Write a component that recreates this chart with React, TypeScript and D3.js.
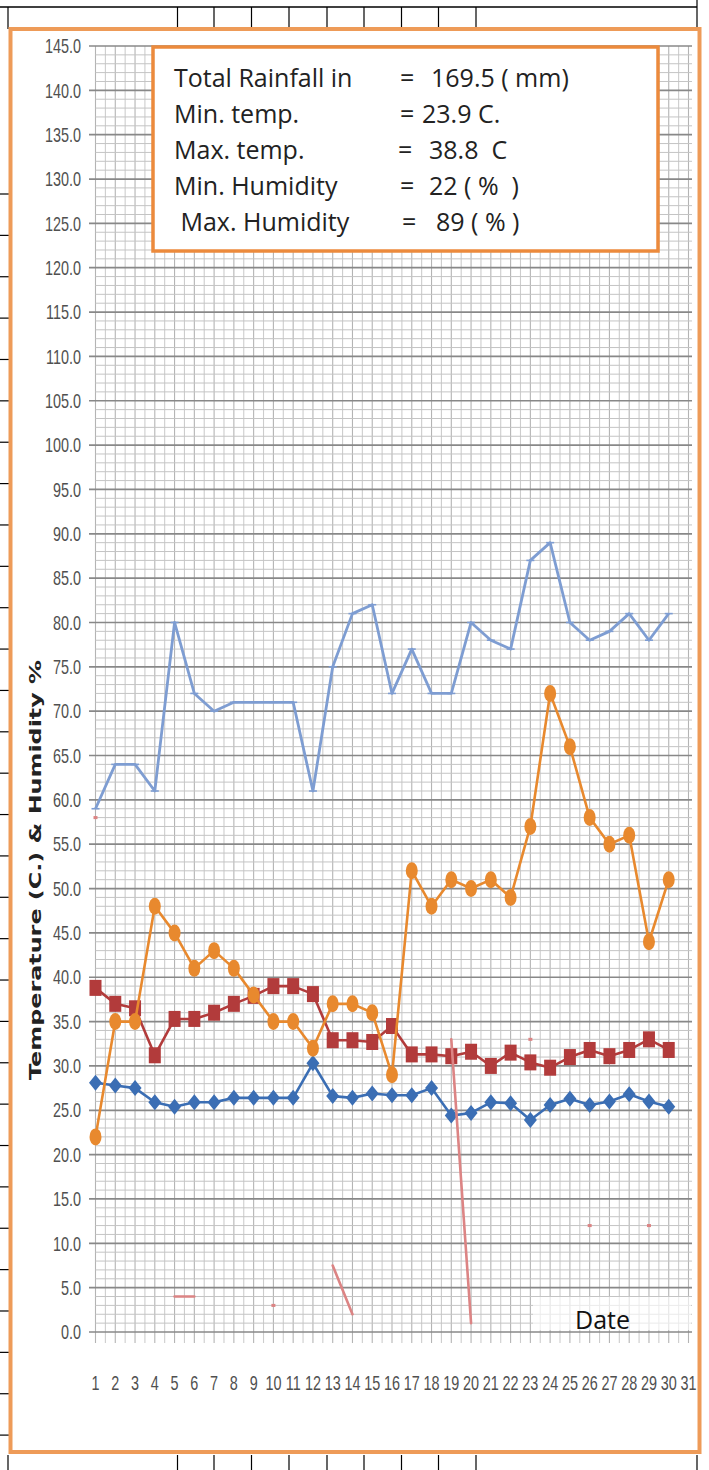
import React from "react";
import * as d3 from "d3";

const days = d3.range(1, 31);
const xTickLabels = d3.range(1, 32).map(String);
const yTicks = d3.range(0, 146, 5);

const humidityMax = [59, 64, 64, 61, 80, 72, 70, 71, 71, 71, 71, 61, 75, 81, 82, 72, 77, 72, 72, 80, 78, 77, 87, 89, 80, 78, 79, 81, 78, 81];
const humidityMin = [22, 35, 35, 48, 45, 41, 43, 41, 38, 35, 35, 32, 37, 37, 36, 29, 52, 48, 51, 50, 51, 49, 57, 72, 66, 58, 55, 56, 44, 51];
const tempMax = [38.8, 37, 36.5, 31.2, 35.3, 35.3, 36, 37, 37.9, 39, 39, 38.1, 32.9, 32.9, 32.7, 34.5, 31.3, 31.3, 31.1, 31.6, 30, 31.5, 30.4, 29.8, 31, 31.8, 31.1, 31.8, 33, 31.8];
const tempMin = [28.1, 27.8, 27.5, 25.9, 25.4, 25.9, 25.9, 26.4, 26.4, 26.4, 26.4, 30.3, 26.6, 26.4, 26.9, 26.7, 26.7, 27.5, 24.4, 24.7, 25.9, 25.8, 23.9, 25.6, 26.3, 25.6, 26, 26.8, 26, 25.4];
const rainfall: (number | null)[] = [58, null, null, null, 4, 4, null, null, null, 3, null, null, 7.5, 2, null, null, null, null, 33, 1, null, null, 33, null, null, 12, null, null, 12, null];

const summaryLabels = ["Total Rainfall in", "Min. temp.", "Max. temp.", "Min. Humidity", " Max. Humidity"];
const summaryValues = ["169.5 ( mm)", "23.9 C.", "38.8  C", "22 ( %  )", "89 ( % )"];

export default function App() {
  const x = d3.scaleLinear().domain([1, 31]).range([95.5, 688.5]);
  const y = d3.scaleLinear().domain([0, 145]).range([1332, 46]);
  const xLeft = 95.5;
  const xRight = 692;

  const line = d3
    .line<number | null>()
    .defined((d) => d != null)
    .x((_, i) => x(days[i]))
    .y((d) => y(d as number));

  const minorY = d3.range(0, 146, 1).filter((v) => v % 5 !== 0);
  const vLines = d3.range(1, 31.01, 0.5);

  const frameTicksX = [8, 177.5, 214, 251.5, 289, 327, 364, 401.5, 438.5, 476, 697];
  const leftTicks = d3.range(0, 31).map((k) => 194 + k * 41.37);

  const orange = "#E8892E";
  const red = "#B23B3B";
  const blue = "#3B6EB4";
  const lightBlue = "#7E9DD2";
  const pink = "#DC8484";

  const tickFont = "'Liberation Sans', Arial, sans-serif";
  const textFont = "'Open Sans', Lato, sans-serif";

  const isolatedRain = rainfall
    .map((v, i) => ({ v, i }))
    .filter(({ v, i }) => v != null && rainfall[i - 1] == null && rainfall[i + 1] == null);

  return (
    <svg width={709} height={1470} style={{ position: "absolute", left: 0, top: 0, background: "#fff" }}>
      {/* page table lines */}
      <line x1={0} x2={697} y1={7} y2={7} stroke="#000" strokeWidth={1.5} />
      {frameTicksX.map((fx, i) => (
        <g key={"ft" + i}>
          <line x1={fx} x2={fx} y1={i === frameTicksX.length - 1 ? 0 : 7} y2={29} stroke="#000" strokeWidth={1.2} />
          <line x1={fx} x2={fx} y1={1455} y2={1470} stroke="#000" strokeWidth={1.2} />
        </g>
      ))}
      {leftTicks.map((ty, i) => (
        <line key={"lt" + i} x1={0} x2={9} y1={ty} y2={ty} stroke="#000" strokeWidth={1.2} />
      ))}

      {/* orange outer frame */}
      <rect x={10.5} y={29} width={689} height={1423} fill="#fff" stroke="#EE9B58" strokeWidth={4} />

      {/* grid */}
      {vLines.map((v, i) => (
        <line key={"v" + i} x1={x(v)} x2={x(v)} y1={y(145)} y2={1343} stroke={Number.isInteger(v) ? "#b4b4b4" : "#cdcdcd"} strokeWidth={1.1} />
      ))}
      {minorY.map((v) => (
        <line key={"m" + v} x1={xLeft} x2={xRight} y1={y(v)} y2={y(v)} stroke="#c4c4c4" strokeWidth={1} />
      ))}
      {yTicks.map((v) => (
        <line key={"M" + v} x1={89} x2={xRight} y1={y(v)} y2={y(v)} stroke="#888" strokeWidth={1.7} />
      ))}

      {/* y tick labels */}
      {yTicks.map((v) => (
        <text
          key={"yl" + v}
          transform={`translate(81,${y(v)}) scale(0.72,1)`}
          dy="0.36em"
          textAnchor="end"
          fontFamily={tickFont}
          fontSize={20}
          fill="#505050"
        >
          {v.toFixed(1)}
        </text>
      ))}
      {/* x tick labels */}
      {xTickLabels.map((t, i) => (
        <text
          key={"xl" + t}
          transform={`translate(${x(i + 1)},1383) scale(0.72,1)`}
          dy="0.36em"
          textAnchor="middle"
          fontFamily={tickFont}
          fontSize={20}
          fill="#505050"
        >
          {t}
        </text>
      ))}

      {/* axis title */}
      <text
        transform="translate(41,870) rotate(-90)"
        textAnchor="middle"
        fontFamily="'DejaVu Sans', sans-serif"
        fontWeight="bold"
        fontSize={16}
        fill="#222"
        textLength={420}
        lengthAdjust="spacingAndGlyphs"
      >
        Temperature (C.) &amp; Humidity %
      </text>

      {/* Date label */}
      <rect x={533} y={1297} width={158} height={33} fill="#fff" opacity={0.65} />
      <text x={575} y={1329} fontFamily={textFont} fontSize={25} fill="#111">
        Date
      </text>

      {/* humidity max */}
      <path d={line(humidityMax) || ""} fill="none" stroke={lightBlue} strokeWidth={2.8} strokeLinejoin="round" />
      {humidityMax.map((v, i) => (
        <line key={"hx" + i} x1={x(days[i]) - 4} x2={x(days[i]) + 4} y1={y(v)} y2={y(v)} stroke={lightBlue} strokeWidth={1.6} />
      ))}

      {/* temp max */}
      <path d={line(tempMax) || ""} fill="none" stroke={red} strokeWidth={2.6} strokeLinejoin="round" />
      {tempMax.map((v, i) => (
        <rect key={"tx" + i} x={x(days[i]) - 6} y={y(v) - 8} width={12} height={16} fill={red} />
      ))}

      {/* temp min */}
      <path d={line(tempMin) || ""} fill="none" stroke={blue} strokeWidth={2.6} strokeLinejoin="round" />
      {tempMin.map((v, i) => {
        const cx = x(days[i]);
        const cy = y(v);
        return <path key={"tn" + i} d={`M${cx},${cy - 8}L${cx + 6.5},${cy}L${cx},${cy + 8}L${cx - 6.5},${cy}Z`} fill={blue} />;
      })}

      {/* humidity min */}
      <path d={line(humidityMin) || ""} fill="none" stroke={orange} strokeWidth={2.6} strokeLinejoin="round" />
      {humidityMin.map((v, i) => (
        <ellipse key={"hn" + i} cx={x(days[i])} cy={y(v)} rx={6} ry={8.5} fill={orange} />
      ))}

      {/* rainfall */}
      <path d={line(rainfall) || ""} fill="none" stroke={pink} strokeWidth={2.6} strokeLinecap="round" strokeLinejoin="round" />
      {isolatedRain.map(({ v, i }) => (
        <rect key={"ri" + i} x={x(days[i]) - 2} y={y(v as number) - 1.5} width={4} height={3} fill={pink} />
      ))}

      {/* summary box */}
      <rect x={153} y={47} width={505} height={204} fill="#fff" stroke="#EC8A3C" strokeWidth={3.5} />
      {summaryLabels.map((s, i) => (
        <text key={"sl" + i} x={174} y={87 + i * 36} fontFamily={textFont} fontSize={25} fill="#222" style={{ whiteSpace: "pre" }}>
          {s}
        </text>
      ))}
      {summaryValues.map((s, i) => (
        <g key={"sv" + i}>
          <text x={[400, 400, 398, 400, 402][i]} y={87 + i * 36} fontFamily={textFont} fontSize={25} fill="#222">
            =
          </text>
          <text x={[431, 422, 429, 429, 436][i]} y={87 + i * 36} fontFamily={textFont} fontSize={25} fill="#222" style={{ whiteSpace: "pre" }}>
            {s}
          </text>
        </g>
      ))}
    </svg>
  );
}
